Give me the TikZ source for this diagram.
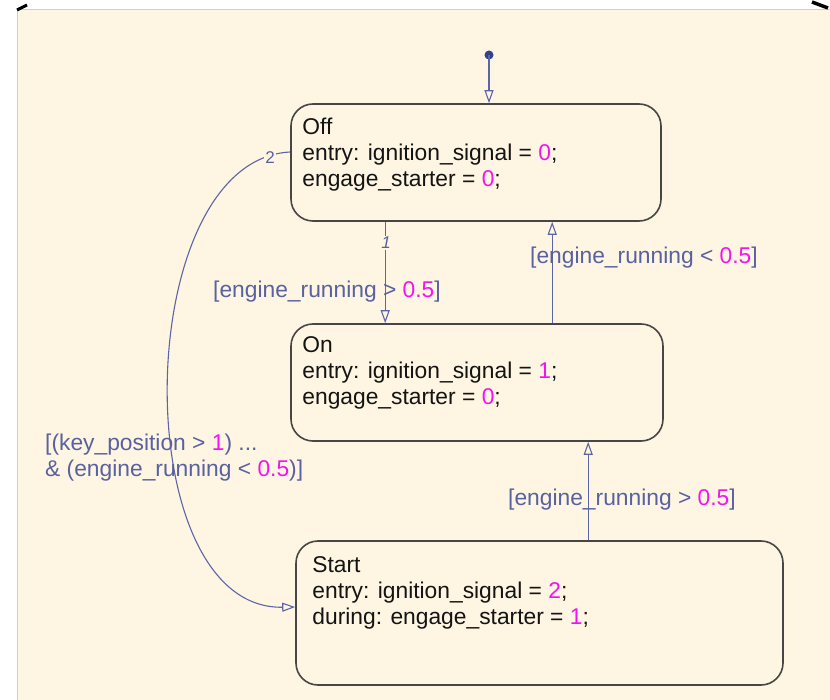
\documentclass[tikz,border=0pt]{standalone}
\usepackage{fontspec}
\setmainfont{Liberation Sans}
\usetikzlibrary{arrows.meta,calc}

\definecolor{cream}{RGB}{254,245,226}
\definecolor{edgegray}{RGB}{214,206,192}
\definecolor{stateline}{RGB}{70,70,70}
\definecolor{trans}{RGB}{92,102,166}
\definecolor{lbl}{RGB}{88,98,160}
\definecolor{num}{RGB}{240,20,240}
\definecolor{ink}{RGB}{20,20,20}
\definecolor{dotblue}{RGB}{52,64,140}

\newcommand{\val}[1]{\textcolor{num}{#1}}

\tikzset{
  statebox/.style={draw=stateline, line width=1.6pt, rounded corners=22pt,
    inner sep=0pt, fill=cream},
  % multi-line nodes sit on the baseline of their last line
  statetext/.style={anchor=base west, inner sep=0pt, align=left, text=ink,
    font=\fontsize{22.8}{26}\selectfont},
  guard/.style={anchor=base west, inner sep=0pt, align=left, text=lbl,
    font=\fontsize{22.8}{26}\selectfont},
  order/.style={inner sep=1pt, fill=cream, text=lbl,
    font=\fontsize{17}{17}\selectfont\itshape},
  trans/.style={draw=trans, line width=1.1pt,
    -{Triangle[open, length=13pt, width=9pt, line width=1.1pt]}},
}

\begin{document}
\begin{tikzpicture}[x=1pt, y=-1pt]
  \useasboundingbox (0,0) rectangle (830,700);
  \fill[white] (0,0) rectangle (830,700);

  % chart canvas
  \fill[cream] (17,9) rectangle (830,700);
  \draw[edgegray, line width=0.8pt] (17,700) -- (17,9) -- (830,9);
  \draw[black, line width=3pt] (17,10) -- (27,5);
  \draw[black, line width=3.5pt] (812,2) -- (828,8);

  % states
  \node[statebox, minimum width=370pt, minimum height=117pt] (off) at (476,162.5) {};
  \node[statebox, minimum width=372pt, minimum height=117pt] (on) at (477,382.5) {};
  \node[statebox, minimum width=487pt, minimum height=144pt] (start) at (539.5,613) {};

  \node[statetext] (offtext) at ($(off.north west)+(12,83)$)
    {Off\\entry: ignition\_signal = \val{0};\\engage\_starter = \val{0};};
  \node[statetext] (ontext) at ($(on.north west)+(12,81)$)
    {On\\entry: ignition\_signal = \val{1};\\engage\_starter = \val{0};};
  \node[statetext] (starttext) at ($(start.north west)+(17,84)$)
    {Start\\entry: ignition\_signal = \val{2};\\during: engage\_starter = \val{1};};

  % default transition
  \coordinate (init) at (489,55);
  \fill[dotblue] (init) circle (4.5pt);
  \draw[trans] (init) -- (init |- off.north);

  % Off -> On
  \draw[trans] ($(off.south west)+(95,0)$) -- ($(on.north west)+(95,0)$);
  \node[order] (ord1) at (386,243) {1};
  \node[guard] (g1) at (213,298) {[engine\_running > \val{0.5}]};

  % On -> Off
  \draw[trans] ($(on.north west)+(262,0)$) -- ($(off.south west)+(262,0)$);
  \node[guard] (g2) at (530,264) {[engine\_running < \val{0.5}]};

  % Start -> On
  \draw[trans] ($(start.north west)+(293,0)$) -- ($(on.south west)+(298,0)$);
  \node[guard] (g3) at (508,505) {[engine\_running > \val{0.5}]};

  % Off -> Start
  \draw[trans] ($(off.west)+(0,-10.5)$)
    .. controls (130,160) and (125,610) .. ($(start.west)+(0,-6)$);
  \node[order, font=\fontsize{17}{17}\selectfont] (ord2) at (270,158) {2};
  \node[guard] (g4) at (45,476)
    {[(key\_position > \val{1}) ...\\\& (engine\_running < \val{0.5})]};
\end{tikzpicture}
\end{document}
